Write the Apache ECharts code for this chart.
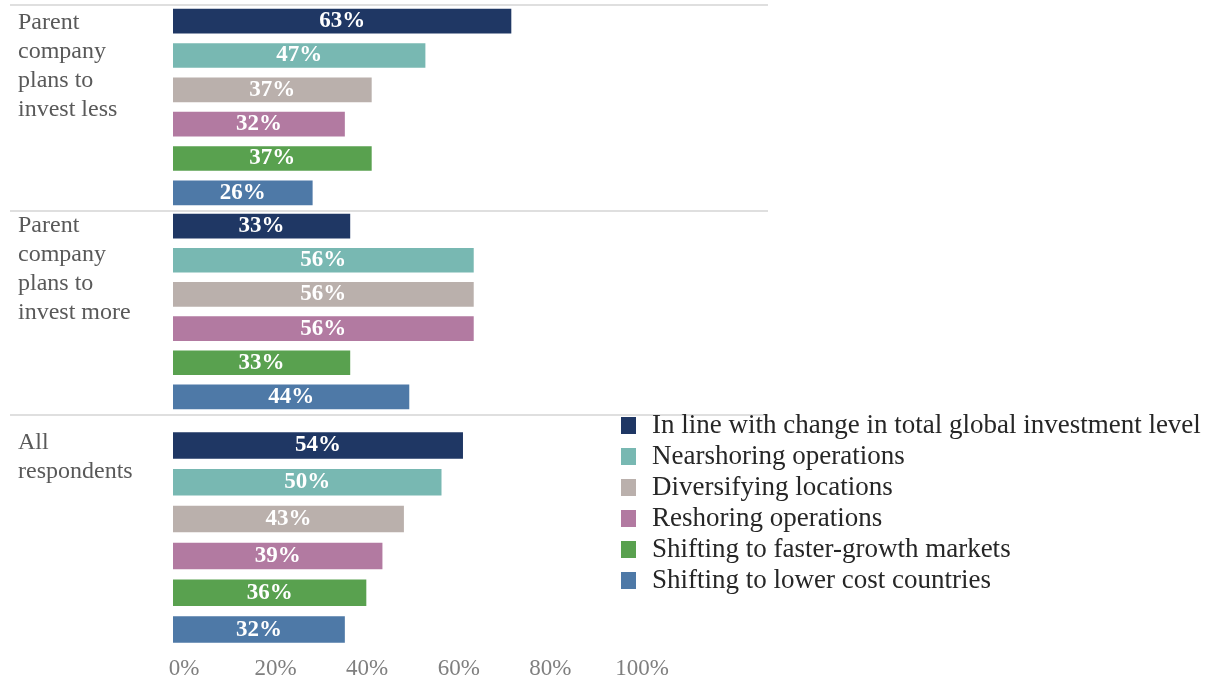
<!DOCTYPE html>
<html>
<head>
<meta charset="utf-8">
<script src="https://cdn.jsdelivr.net/npm/echarts@6/dist/echarts.min.js"></script>
<style>
  html, body { margin: 0; padding: 0; background: #fff; }
  #chart { width: 1225px; height: 681px; }
</style>
</head>
<body>
<div id="chart"></div>
<script>
// Investment reasons, one bar per reason inside each respondent group
const reasons = [
  'In line with change in total global investment level',
  'Nearshoring operations',
  'Diversifying locations',
  'Reshoring operations',
  'Shifting to faster-growth markets',
  'Shifting to lower cost countries'
];
const reasonColors = ['#1f3764', '#78b8b2', '#bab0ac', '#b27aa1', '#59a14f', '#4e79a7'];

const groupNames = [
  'Parent\ncompany\nplans to\ninvest less',
  'Parent\ncompany\nplans to\ninvest more',
  'All\nrespondents'
];
const investLess = [63, 47, 37, 32, 37, 26];
const investMore = [33, 56, 56, 56, 33, 44];
const allRespondents = [54, 50, 43, 39, 36, 32];
const groupValues = [investLess, investMore, allRespondents];

const axisTicks = [0, 20, 40, 60, 80, 100];

const SERIF = '"Liberation Serif", "DejaVu Serif", serif';

// Panel layout (one grid per respondent group)
const panels = [
  { top: 4, height: 206, labelTop: 8 },
  { top: 209, height: 205, labelTop: 211 },
  { top: 427, height: 221, labelTop: 428 }
];
const barLeft = 173, barWidth = 537;

const grids = panels.map(p => ({ left: barLeft, width: barWidth, top: p.top, height: p.height }));
// Scale strip carrying the percentage tick labels
grids.push({ left: 184, width: 458, top: 655, height: 1 });

const xAxes = panels.map((p, i) => ({
  type: 'value', gridIndex: i, min: 0, max: 100, show: false
}));
xAxes.push({
  type: 'value', gridIndex: 3, min: axisTicks[0], max: axisTicks[axisTicks.length - 1],
  interval: axisTicks[1] - axisTicks[0],
  axisLine: { show: false }, axisTick: { show: false }, splitLine: { show: false },
  axisLabel: {
    formatter: v => v + '%', color: '#7f7f7f', fontFamily: SERIF, fontSize: 23, margin: 1,
    verticalAlign: 'top'
  }
});

const yAxes = panels.map((p, i) => ({
  type: 'category', gridIndex: i, data: reasons, inverse: true, show: false
}));
yAxes.push({ type: 'category', gridIndex: 3, show: false, data: [''] });

const series = [];
groupValues.forEach((vals, g) => {
  reasons.forEach((name, r) => {
    series.push({
      name: name,
      type: 'bar',
      xAxisIndex: g,
      yAxisIndex: g,
      stack: 'group' + g,
      barCategoryGap: '28%',
      itemStyle: { color: reasonColors[r] },
      label: {
        show: true, position: 'inside', formatter: '{c}%',
        color: '#fff', fontFamily: SERIF, fontSize: 23, fontWeight: 'bold'
      },
      emphasis: { disabled: true },
      data: reasons.map((_, k) => (k === r ? vals[r] : '-'))
    });
  });
});

// Horizontal separators between respondent groups and the group captions
const graphics = [5, 211, 415].map(y => ({
  type: 'line', shape: { x1: 10, y1: y, x2: 768, y2: y },
  style: { stroke: '#d4d4d4', lineWidth: 1.5 }
}));
groupNames.forEach((t, i) => {
  graphics.push({
    type: 'text', left: 18, top: panels[i].labelTop,
    style: { text: t, font: '24px ' + SERIF, fill: '#595959', lineHeight: 29 }
  });
});

const chart = echarts.init(document.getElementById('chart'), null, { renderer: 'canvas' });
chart.setOption({
  animation: false,
  backgroundColor: '#fff',
  grid: grids,
  xAxis: xAxes,
  yAxis: yAxes,
  legend: {
    data: reasons,
    orient: 'vertical',
    left: 621, top: 412,
    padding: 0,
    itemWidth: 15, itemHeight: 17, itemGap: 4,
    icon: 'rect',
    textStyle: { fontFamily: SERIF, fontSize: 27, color: '#262626', padding: [0, 0, 0, 11] },
    selectedMode: false
  },
  graphic: graphics,
  series: series
});
</script>
</body>
</html>
